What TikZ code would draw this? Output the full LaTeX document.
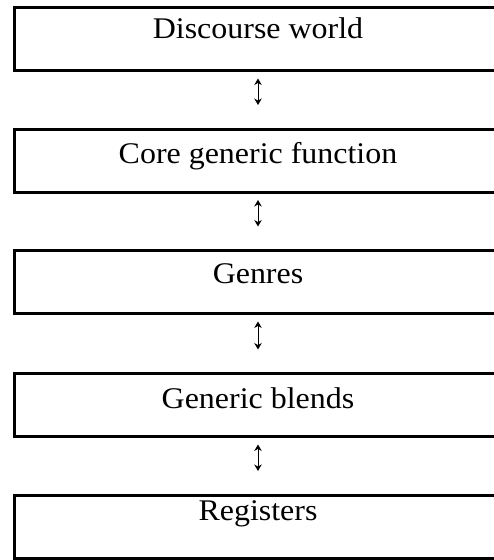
\documentclass[tikz,border=0pt]{standalone}
\usepackage{fontspec}
\setmainfont{Liberation Serif}
\usetikzlibrary{arrows.meta}
\tikzset{
	>={Stealth[length=6.5pt,width=7.5pt]},
}
\newcommand{\wtext}[1]{\scalebox{1.065}[1]{#1}}
\begin{document}
\begin{tikzpicture}[x=1pt,y=-1pt,
box/.style = {rectangle, draw, line width=3pt, minimum width=487pt, minimum height=63pt, inner sep=0, outer sep=0},
boxtext/.style = {anchor=base, inner sep=0, font=\fontsize{30}{34}\selectfont},
link/.style = {<->, line width=0.9pt, shorten <=24pt, shorten >=8pt}]
\useasboundingbox (0,0) rectangle (494,560);
\node[box] (discourse) at (258,39) {};
\node[boxtext] (discoursetext) at (258,38.5) {\wtext{Discourse world}};
\node[box] (core) at (258,160.5) {}
	edge[link] (discourse);
\node[boxtext] (coretext) at (258,163) {\wtext{Core generic function}};
\node[box] (genres) at (258,282) {}
	edge[link] (core);
\node[boxtext] (genrestext) at (258,283.5) {\wtext{Genres}};
\node[box] (blends) at (258,405) {}
	edge[link] (genres);
\node[boxtext] (blendstext) at (258,408.5) {\wtext{Generic blends}};
\node[box] (registers) at (258,526.5) {}
	edge[link] (blends);
\node[boxtext] (registerstext) at (258,520) {\wtext{Registers}};
\end{tikzpicture}
\end{document}
